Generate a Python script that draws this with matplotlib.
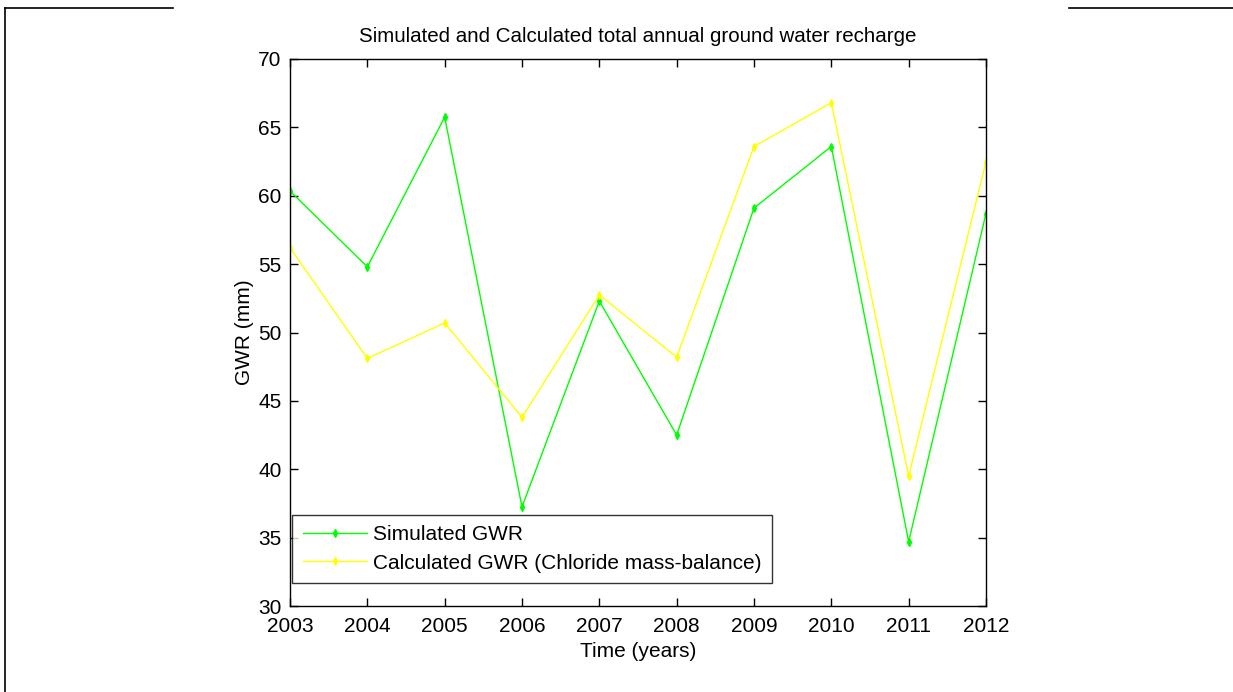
import matplotlib
matplotlib.use("Agg")
import matplotlib.pyplot as plt
from matplotlib.lines import Line2D

plt.rcParams['font.family'] = ['Liberation Sans', 'DejaVu Sans']

years = [2003, 2004, 2005, 2006, 2007, 2008, 2009, 2010, 2011, 2012]
simulated = [60.35, 54.8, 65.75, 37.25, 52.3, 42.5, 59.1, 63.6, 34.7, 58.7]
calculated = [56.2, 48.1, 50.7, 43.8, 52.75, 48.2, 63.6, 66.8, 39.5, 62.5]

fig = plt.figure(figsize=(12.33, 6.92), dpi=100)
ax = fig.add_axes([290/1233, 1 - 606/692, 696/1233, 547/692])

ax.plot(years, simulated, color=(0, 1, 0), lw=1, marker='d', ms=4,
        label='Simulated GWR')
ax.plot(years, calculated, color=(1, 1, 0), lw=1, marker='d', ms=4,
        label='Calculated GWR (Chloride mass-balance)')

ax.set_xlim(2003, 2012)
ax.set_ylim(30, 70)
ax.set_xticks(years)
ax.set_yticks(range(30, 71, 5))
ax.tick_params(direction='in', top=True, right=True, labelsize=15,
               length=6, width=1)
ax.tick_params(axis='x', pad=8)
ax.tick_params(axis='y', pad=6)
for s in ax.spines.values():
    s.set_linewidth(1)

ax.set_title('Simulated and Calculated total annual ground water recharge',
             fontsize=14.8, pad=12)
ax.set_xlabel('Time (years)', fontsize=15, labelpad=4)
ax.set_ylabel('GWR (mm)', fontsize=15, labelpad=3)

leg = ax.legend(loc='lower left', bbox_to_anchor=(0.003, 0.042), fontsize=15,
                frameon=True, fancybox=False, edgecolor='black',
                handlelength=3.1, handletextpad=0.3, borderpad=0.5,
                labelspacing=0.45, borderaxespad=0)
leg.get_frame().set_linewidth(1)

# frame lines around the figure
fig.add_artist(Line2D([5/1233, 173/1233], [1 - 8/692, 1 - 8/692],
                      color='black', lw=1.2))
fig.add_artist(Line2D([5/1233, 5/1233], [0, 1 - 8/692],
                      color='black', lw=1.2))
fig.add_artist(Line2D([1069/1233, 1], [1 - 8/692, 1 - 8/692],
                      color='black', lw=1.2))

fig.savefig('out.png', dpi=100)
